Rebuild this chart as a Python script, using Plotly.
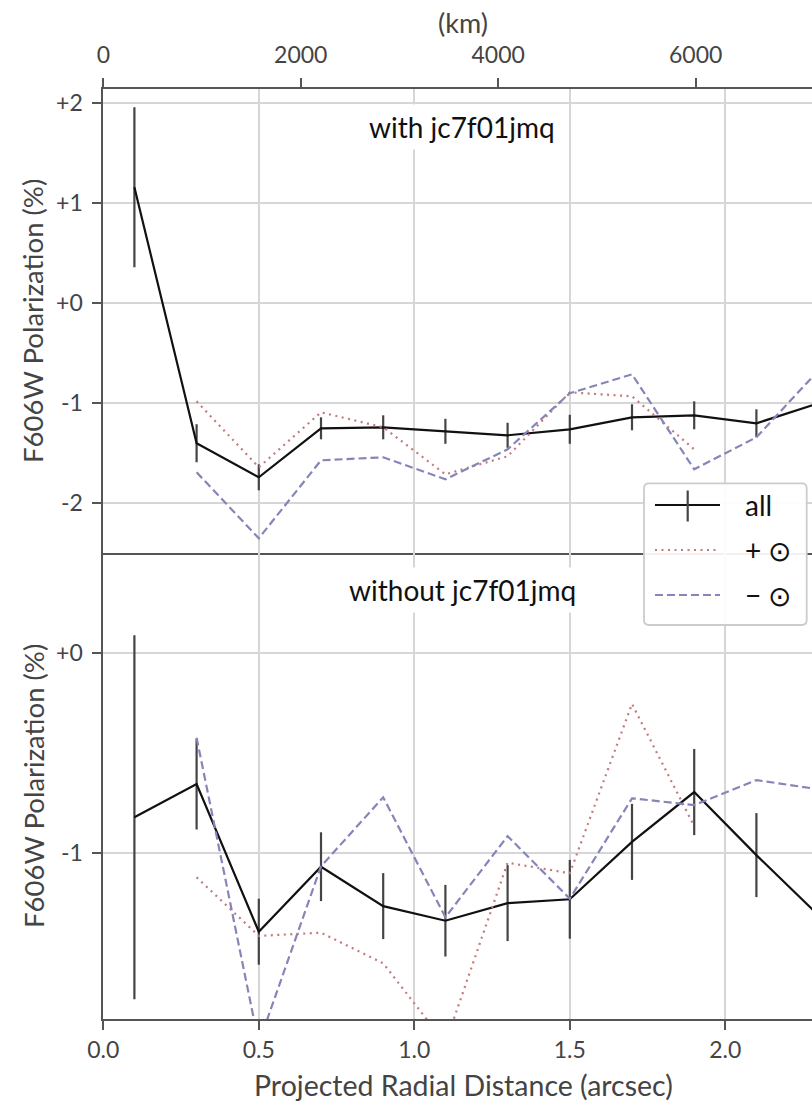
import plotly.graph_objects as go

# ---- data -------------------------------------------------------------
radius = [0.1, 0.3, 0.5, 0.7, 0.9, 1.1, 1.3, 1.5, 1.7, 1.9, 2.1, 2.3]
radius_plus = [0.3, 0.5, 0.7, 0.9, 1.1, 1.3, 1.5, 1.7, 1.9]
radius_minus = [0.3, 0.5, 0.7, 0.9, 1.1, 1.3, 1.5, 1.7, 1.9, 2.1, 2.3]

# with jc7f01jmq
with_all = [1.16, -1.40, -1.74, -1.25, -1.24, -1.28, -1.32, -1.26, -1.14, -1.12, -1.20, -1.00]
with_all_err = [0.80, 0.19, 0.13, 0.11, 0.12, 0.125, 0.125, 0.145, 0.13, 0.14, 0.14, 0.14]
with_plus = [-0.98, -1.64, -1.09, -1.24, -1.71, -1.53, -0.89, -0.93, -1.46]
with_minus = [-1.69, -2.35, -1.57, -1.54, -1.76, -1.46, -0.90, -0.71, -1.66, -1.34, -0.67]

# without jc7f01jmq
without_all = [-0.82, -0.654, -1.392, -1.067, -1.264, -1.337, -1.249, -1.23, -0.943, -0.694, -1.009, -1.31]
without_all_err = [0.91, 0.227, 0.165, 0.172, 0.165, 0.179, 0.19, 0.197, 0.19, 0.215, 0.21, 0.21]
without_plus = [-1.12, -1.413, -1.397, -1.55, -1.95, -1.047, -1.10, -0.253, -0.864]
without_minus = [-0.422, -1.95, -1.065, -0.72, -1.32, -0.914, -1.227, -0.725, -0.759, -0.634, -0.68]

top_ticks = [2, 1, 0, -1, -2]
top_ticktext = ["+2", "+1", "+0", "-1", "-2"]
bottom_ticks = [0, -1]
bottom_ticktext = ["+0", "-1"]
x_ticks = [0.0, 0.5, 1.0, 1.5, 2.0]
x_ticktext = ["0.0", "0.5", "1.0", "1.5", "2.0"]
km_ticks = [0, 2000, 4000, 6000]
KM_PER_ARCSEC = 3150

# ---- layout geometry --------------------------------------------------
W, H = 812, 1103
FONT = "Lato"
AXIS_COLOR = "#555555"
TEXT_COLOR = "#444444"
GRID_COLOR = "#d6d6d6"
ALL_COLOR = "#111111"
ERR_COLOR = "#444444"
PLUS_COLOR = "#c27a7a"
MINUS_COLOR = "#8585b8"


def px(x):
    return x / W


def py(y):
    return 1 - y / H


X_LEFT = 103.3
X_MAX = (W - X_LEFT) / 311.0
TOP_DOMAIN = [py(552.5), py(89.3)]
BOT_DOMAIN = [py(1019), py(552.5)]

fig = go.Figure()


def add_panel(xa, ya, all_y, all_err, plus_y, minus_y):
    fig.add_trace(go.Scatter(
        x=radius, y=all_y, mode="lines", name="all", showlegend=False,
        line=dict(color=ALL_COLOR, width=2.2),
        error_y=dict(type="data", array=all_err, thickness=2.2, width=0, color=ERR_COLOR),
        xaxis=xa, yaxis=ya))
    fig.add_trace(go.Scatter(
        x=radius_plus, y=plus_y, mode="lines", name="+⊙", showlegend=False,
        line=dict(color=PLUS_COLOR, width=2.2, dash="2px,4.5px"),
        xaxis=xa, yaxis=ya))
    fig.add_trace(go.Scatter(
        x=radius_minus, y=minus_y, mode="lines", name="−⊙", showlegend=False,
        line=dict(color=MINUS_COLOR, width=2.2, dash="8px,4px"),
        xaxis=xa, yaxis=ya))


add_panel("x", "y", with_all, with_all_err, with_plus, with_minus)
add_panel("x2", "y2", without_all, without_all_err, without_plus, without_minus)

tickfont = dict(family=FONT, size=23, color=TEXT_COLOR)
common_x = dict(
    domain=[px(X_LEFT), 1], range=[0, X_MAX], showgrid=True, gridcolor=GRID_COLOR,
    gridwidth=1.5, tickvals=x_ticks, ticktext=x_ticktext, zeroline=False,
    showline=True, linecolor=AXIS_COLOR, linewidth=1.8, tickfont=tickfont,
    automargin=False)
common_y = dict(
    showgrid=True, gridcolor=GRID_COLOR, gridwidth=1.5, zeroline=False,
    showline=True, linecolor=AXIS_COLOR, linewidth=1.8, ticks="outside",
    ticklen=9, tickwidth=1.8, tickcolor=AXIS_COLOR, tickfont=tickfont,
    ticklabelstandoff=5, automargin=False)

fig.update_layout(
    width=W, height=H, margin=dict(l=0, r=0, t=0, b=0, autoexpand=False),
    paper_bgcolor="white", plot_bgcolor="white",
    font=dict(family=FONT, color=TEXT_COLOR),
    xaxis=dict(common_x, anchor="y", showticklabels=False, ticks=""),
    yaxis=dict(common_y, domain=TOP_DOMAIN, range=[-2.492, 2.14],
               tickvals=top_ticks, ticktext=top_ticktext, anchor="x"),
    xaxis2=dict(common_x, anchor="y2", ticks="outside", ticklen=9, tickwidth=1.8,
                tickcolor=AXIS_COLOR),
    yaxis2=dict(common_y, domain=BOT_DOMAIN, range=[-1.8285, 0.504],
                tickvals=bottom_ticks, ticktext=bottom_ticktext, anchor="x2"),
    xaxis3=dict(overlaying="x", side="top", anchor="y",
                range=[0, X_MAX * KM_PER_ARCSEC], tickvals=km_ticks,
                showgrid=False, zeroline=False, showline=True, linecolor=AXIS_COLOR,
                linewidth=1.8, ticks="outside", ticklen=9, tickwidth=1.8,
                tickcolor=AXIS_COLOR, tickfont=tickfont, ticklabelstandoff=6,
                automargin=False),
)
# an invisible trace keeps the km axis drawn
fig.add_trace(go.Scatter(x=[], y=[], xaxis="x3", yaxis="y", showlegend=False))

annotations = []


def text(x, y, s, size, color=TEXT_COLOR, angle=0, xanchor="center", **kw):
    annotations.append(dict(
        x=px(x), y=py(y), xref="paper", yref="paper", text=s, showarrow=False,
        textangle=angle, xanchor=xanchor, yanchor="middle",
        font=dict(family=FONT, size=size, color=color), **kw))


text(463, 22, "(km)", 27)
text(463, 1085, "Projected Radial Distance (arcsec)", 28.5)
text(33, 321, "F606W Polarization (%)", 27.5, angle=-90)
text(33, 786, "F606W Polarization (%)", 27.5, angle=-90)
text(462, 127, "with jc7f01jmq", 28, color="#111111", bgcolor="white", borderpad=5)
text(462, 590, "without jc7f01jmq", 28, color="#111111", bgcolor="white", borderpad=5)

# ---- legend -----------------------------------------------------------
LX0, LX1, LY0, LY1, R = 644, 806.7, 483.3, 625, 5
rx, ry = R / W, R / H
x0, x1, y0, y1 = px(LX0), px(LX1), py(LY1), py(LY0)
box = (f"M{x0 + rx},{y1} L{x1 - rx},{y1} Q{x1},{y1} {x1},{y1 - ry} "
       f"L{x1},{y0 + ry} Q{x1},{y0} {x1 - rx},{y0} L{x0 + rx},{y0} "
       f"Q{x0},{y0} {x0},{y0 + ry} L{x0},{y1 - ry} Q{x0},{y1} {x0 + rx},{y1} Z")
shapes = [dict(type="path", path=box, xref="paper", yref="paper", layer="above",
               fillcolor="rgba(255,255,255,0.92)", line=dict(color="#cccccc", width=1.8))]


def legend_line(y, color, dash):
    shapes.append(dict(type="line", xref="paper", yref="paper", layer="above",
                       x0=px(655), x1=px(720), y0=py(y), y1=py(y),
                       line=dict(color=color, width=2.2, dash=dash)))


legend_line(505, ALL_COLOR, "solid")
shapes.append(dict(type="line", xref="paper", yref="paper", layer="above",
                   x0=px(687.7), x1=px(687.7), y0=py(490.5), y1=py(521.5),
                   line=dict(color=ERR_COLOR, width=2.2)))
legend_line(550, PLUS_COLOR, "2px,4.5px")
legend_line(595, MINUS_COLOR, "8px,4px")
text(743, 505, "all", 28, color="#111111", xanchor="left")
text(743, 550, "+ ⊙", 28, color="#111111", xanchor="left")
text(743, 595, "− ⊙", 28, color="#111111", xanchor="left")

fig.update_layout(annotations=annotations, shapes=shapes)
fig.write_html("out.html")
